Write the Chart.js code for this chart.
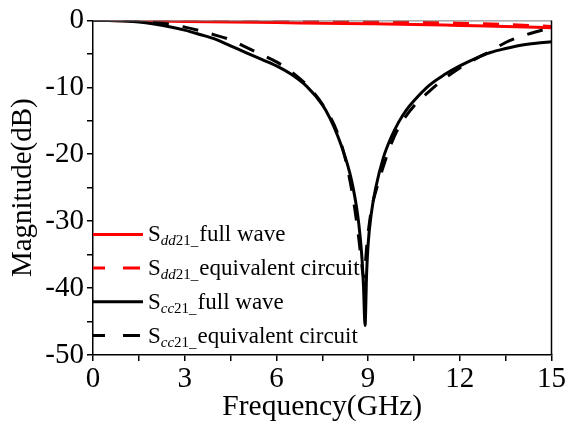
<!DOCTYPE html>
<html>
<head>
<meta charset="utf-8">
<script src="https://cdn.jsdelivr.net/npm/chart.js@4/dist/chart.umd.min.js"></script>
<style>
  html, body { margin: 0; padding: 0; background: #fff; }
  #wrap { width: 567px; height: 426px; }
</style>
</head>
<body>
<div id="wrap"><canvas id="chart" width="567" height="426"></canvas></div>
<script>
// S-parameter magnitude (dB) vs frequency (GHz)
const freqDd = [0, 1.5, 3, 4.5, 6, 7.5, 9, 10.5, 12, 13.5, 15];
const sdd21Full = [0, -0.08, -0.15, -0.25, -0.33, -0.42, -0.5, -0.6, -0.75, -0.9, -1.1];
const sdd21Equiv = [0, -0.02, -0.05, -0.08, -0.12, -0.17, -0.22, -0.3, -0.42, -0.6, -0.9];

const freqCcFull = [0, 0.5, 1, 1.5, 2, 2.5, 3, 3.5, 4, 4.5, 5, 5.5, 6, 6.5, 7, 7.5, 7.75, 8, 8.25,
  8.4, 8.5, 8.6, 8.7, 8.8, 8.85, 8.9, 8.95, 9.0, 9.1, 9.25, 9.5, 9.75, 10, 10.25, 10.5, 11, 11.5,
  12, 12.5, 13, 13.5, 14, 14.5, 15];
const scc21Full = [0, -0.02, -0.1, -0.25, -0.55, -0.95, -1.45, -2.1, -2.8, -3.8, -4.8, -5.8, -6.8,
  -8.1, -9.9, -12.6, -14.6, -17.2, -20.4, -22.8, -24.8, -27.3, -30.6, -35.6, -39.8, -45.6, -38,
  -33.5, -29, -25, -20.5, -17.5, -15.2, -13.4, -12, -9.7, -8.1, -6.8, -5.7, -4.8, -4.2, -3.7,
  -3.4, -3.2];

const freqCcEquiv = [0, 1, 1.5, 2, 2.5, 3, 3.5, 4, 4.5, 5, 5.5, 6, 6.5, 7, 7.5, 8, 8.25, 8.4,
  8.5, 8.6, 8.7, 8.8, 8.85, 8.9, 8.95, 9.05, 9.15, 9.3, 9.5, 9.75, 10, 10.5, 11, 11.5, 12, 12.5,
  13, 13.5, 14, 14.5, 15];
const scc21Equiv = [0, -0.03, -0.12, -0.3, -0.55, -1.0, -1.55, -2.2, -2.9, -4.0, -5.1, -6.2, -7.7,
  -9.7, -12.5, -16.8, -20.6, -23.8, -26.3, -29.3, -32.8, -36.8, -38.4, -37, -34, -30, -27.3, -24.8,
  -21.8, -18.5, -16, -12.8, -10.6, -8.7, -7.1, -5.8, -4.6, -3.3, -2.4, -1.7, -1.1];

const xMajor = 3;
const yMajor = 10;

const SERIF = "'Liberation Serif', 'Times New Roman', serif";
const DASH = [16, 14];

function toPoints(xs, ys) {
  return xs.map((x, i) => ({ x, y: ys[i] }));
}

// legend entries: subscript name, description, color, dashed?
const legendItems = [
  { sub: "dd", text: "full wave", color: "#ff0000", dash: false },
  { sub: "dd", text: "equivalent circuit", color: "#ff0000", dash: true },
  { sub: "cc", text: "full wave", color: "#000000", dash: false },
  { sub: "cc", text: "equivalent circuit", color: "#000000", dash: true },
];

const framePlugin = {
  id: "frame",
  afterDraw(chart) {
    const { ctx, chartArea: a } = chart;
    ctx.save();
    // top and right edges of the box
    ctx.strokeStyle = "#777";
    ctx.lineWidth = 1;
    ctx.beginPath();
    ctx.moveTo(a.left, a.top + 0.5);
    ctx.lineTo(a.right, a.top + 0.5);
    ctx.stroke();
    ctx.strokeStyle = "#000";
    ctx.lineWidth = 1.5;
    ctx.beginPath();
    ctx.moveTo(a.right, a.top);
    ctx.lineTo(a.right, a.bottom);
    ctx.stroke();

    // legend in lower left of the plot
    const y0 = a.top + 214;
    const step = 33.7;
    legendItems.forEach((it, i) => {
      const y = y0 + i * step;
      ctx.strokeStyle = it.color;
      ctx.lineWidth = 3;
      ctx.setLineDash(it.dash ? [17, 18] : []);
      ctx.lineDashOffset = it.dash ? 5 : 0;
      ctx.beginPath();
      ctx.moveTo(a.left, y);
      ctx.lineTo(a.left + 50, y);
      ctx.stroke();
      ctx.setLineDash([]);

      let x = a.left + 55;
      ctx.fillStyle = "#000";
      ctx.textBaseline = "alphabetic";
      ctx.font = "23px " + SERIF;
      ctx.fillText("S", x, y + 7);
      x += ctx.measureText("S").width;
      ctx.font = "italic 15px " + SERIF;
      ctx.fillText(it.sub, x, y + 11);
      x += ctx.measureText(it.sub).width;
      ctx.font = "15px " + SERIF;
      ctx.fillText("21_", x, y + 11);
      x += ctx.measureText("21_").width + 1;
      ctx.font = "23px " + SERIF;
      ctx.fillText(it.text, x, y + 7);
    });
    ctx.restore();
  },
};

new Chart(document.getElementById("chart"), {
  type: "line",
  data: {
    datasets: [
      {
        label: "Scc21 full wave",
        data: toPoints(freqCcFull, scc21Full),
        borderColor: "#000",
        borderWidth: 3,
        order: 0,
      },
      {
        label: "Scc21 equivalent circuit",
        data: toPoints(freqCcEquiv, scc21Equiv),
        borderColor: "#000",
        borderWidth: 3,
        borderDash: DASH,
        order: 1,
      },
      {
        label: "Sdd21 full wave",
        data: toPoints(freqDd, sdd21Full),
        borderColor: "#ff0000",
        borderWidth: 3,
        order: 2,
      },
      {
        label: "Sdd21 equivalent circuit",
        data: toPoints(freqDd, sdd21Equiv),
        borderColor: "#ff0000",
        borderWidth: 3,
        borderDash: DASH,
        order: 3,
      },
    ],
  },
  options: {
    responsive: false,
    animation: false,
    events: [],
    layout: { padding: { top: 19, right: 15, left: 0, bottom: 0 } },
    elements: {
      point: { radius: 0 },
      line: { cubicInterpolationMode: "monotone", fill: false },
    },
    plugins: {
      legend: { display: false },
      tooltip: { enabled: false },
    },
    scales: {
      x: {
        type: "linear",
        min: 0,
        max: 15,
        afterFit: (s) => { s.height = 71; },
        border: { display: true, color: "#000", width: 1.5 },
        grid: { drawOnChartArea: false, drawTicks: true, tickLength: 6, color: "#000", lineWidth: 1.5 },
        ticks: {
          stepSize: 1.5,
          autoSkip: false,
          maxRotation: 0,
          padding: 1,
          color: "#000",
          font: { family: SERIF, size: 29 },
          callback: (v) => (Math.abs(v % xMajor) < 1e-6 ? String(Math.round(v)) : ""),
        },
        title: {
          display: true,
          text: "Frequency(GHz)",
          color: "#000",
          font: { family: SERIF, size: 29.5 },
          padding: { top: 0, bottom: 1 },
        },
      },
      y: {
        type: "linear",
        min: -50,
        max: 0,
        afterFit: (s) => { s.width = 93; },
        border: { display: true, color: "#000", width: 1.5 },
        grid: { drawOnChartArea: false, drawTicks: true, tickLength: 6, color: "#000", lineWidth: 1.5 },
        ticks: {
          stepSize: 5,
          autoSkip: false,
          padding: 3,
          color: "#000",
          font: { family: SERIF, size: 29 },
          callback: (v) => (Math.abs(v % yMajor) < 1e-6 ? String(Math.round(v)) : ""),
        },
        title: {
          display: true,
          text: "Magnitude(dB)",
          color: "#000",
          font: { family: SERIF, size: 29 },
          padding: { top: 6, bottom: 4 },
        },
      },
    },
  },
  plugins: [framePlugin],
});
</script>
</body>
</html>
